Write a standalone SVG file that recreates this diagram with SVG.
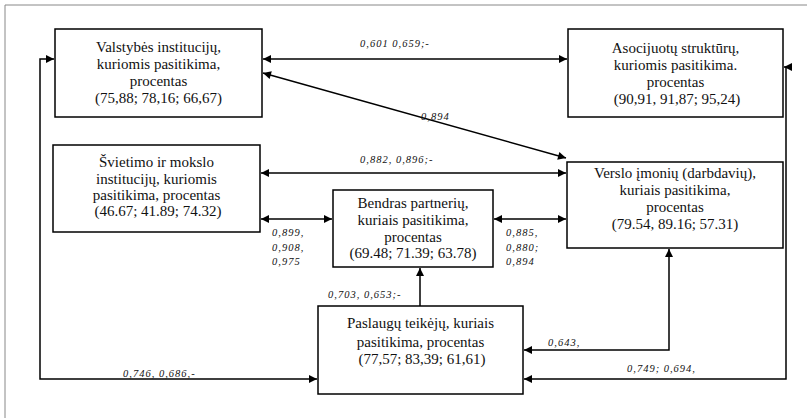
<svg xmlns="http://www.w3.org/2000/svg" width="807" height="418" viewBox="0 0 807 418">
<defs>
<marker id="ah" viewBox="0 0 10 10" refX="10" refY="5" markerWidth="9" markerHeight="8" markerUnits="userSpaceOnUse" orient="auto-start-reverse">
<path d="M0,0 L10,5 L0,10 z" fill="#000"/>
</marker>
<style>
.box{fill:#fff;stroke:#000;stroke-width:1.5}
.t{font-family:"Liberation Serif","Times New Roman",serif;font-size:15px;fill:#111;text-anchor:middle}
.l{font-family:"Liberation Serif","Times New Roman",serif;font-size:10.5px;font-style:italic;fill:#111;letter-spacing:1px}
.c{fill:none;stroke:#000;stroke-width:1.5}
.one{marker-end:url(#ah)}
.two{marker-start:url(#ah);marker-end:url(#ah)}
.frame{fill:none;stroke:#888;stroke-width:1}
</style>
</defs>
<rect width="807" height="418" fill="#fff"/>
<path class="frame" d="M5,418 V5 H807"/>
<g id="connectors">
<line class="c two" x1="263" y1="59" x2="567" y2="59"/>
<line class="c two" x1="263" y1="73" x2="566" y2="158"/>
<line class="c two" x1="261" y1="173" x2="566" y2="173"/>
<line class="c two" x1="261" y1="219" x2="332" y2="219"/>
<line class="c two" x1="494" y1="219" x2="566" y2="219"/>
<line class="c one" x1="420" y1="306" x2="420" y2="268"/>
<polyline class="c two" points="54,59 40,59 40,379 317,379"/>
<polyline class="c two" points="784,67 786,67 786,379 524,379"/>
<polyline class="c two" points="669,249 669,350 524,350"/>
<text class="l" x="360" y="47">0,601  0,659;-</text>
<text class="l" x="421" y="120">0,894</text>
<text class="l" x="360" y="163">0,882, 0,896;-</text>
<text class="l" x="272" y="236">0,899,</text>
<text class="l" x="272" y="251">0,908,</text>
<text class="l" x="272" y="265">0,975</text>
<text class="l" x="506" y="236">0,885,</text>
<text class="l" x="506" y="251">0,880;</text>
<text class="l" x="506" y="265">0,894</text>
<text class="l" x="328" y="298">0,703, 0,653;-</text>
<text class="l" x="548" y="346">0,643,</text>
<text class="l" x="627" y="372">0,749; 0,694,</text>
<text class="l" x="123" y="377">0,746, 0,686,-</text>
</g>
<g id="valstybes">
<rect class="box" x="55" y="29" width="207" height="88"/>
<text class="t" x="158.5" y="52">Valstybės institucijų,</text>
<text class="t" x="158.5" y="69">kuriomis pasitikima,</text>
<text class="t" x="158.5" y="86">procentas</text>
<text class="t" x="158.5" y="103">(75,88; 78,16; 66,67)</text>
</g>
<g id="asocijuotu">
<rect class="box" x="568" y="29" width="215" height="88"/>
<text class="t" x="675.5" y="53">Asocijuotų struktūrų,</text>
<text class="t" x="675.5" y="70">kuriomis pasitikima.</text>
<text class="t" x="675.5" y="87">procentas</text>
<text class="t" x="677" y="104">(90,91, 91,87; 95,24)</text>
</g>
<g id="svietimo">
<rect class="box" x="53" y="145" width="207" height="87"/>
<text class="t" x="156.5" y="167">Švietimo ir mokslo</text>
<text class="t" x="156.5" y="184">institucijų, kuriomis</text>
<text class="t" x="156.5" y="200">pasitikima, procentas</text>
<text class="t" x="158" y="216">(46.67; 41.89; 74.32)</text>
</g>
<g id="verslo">
<rect class="box" x="567" y="162" width="216" height="86"/>
<text class="t" x="675" y="178">Verslo įmonių (darbdavių),</text>
<text class="t" x="675" y="195">kuriais pasitikima,</text>
<text class="t" x="675" y="212">procentas</text>
<text class="t" x="675" y="229">(79.54, 89.16; 57.31)</text>
</g>
<g id="bendras">
<rect class="box" x="333" y="190" width="160" height="77"/>
<text class="t" x="413" y="208">Bendras partnerių,</text>
<text class="t" x="413" y="225">kuriais pasitikima,</text>
<text class="t" x="413" y="242">procentas</text>
<text class="t" x="413" y="258">(69.48; 71.39; 63.78)</text>
</g>
<g id="paslaugu">
<rect class="box" x="318" y="306" width="205" height="88"/>
<text class="t" x="420.5" y="328">Paslaugų teikėjų, kuriais</text>
<text class="t" x="420.5" y="347">pasitikima, procentas</text>
<text class="t" x="422" y="364">(77,57; 83,39; 61,61)</text>
</g>
</svg>
